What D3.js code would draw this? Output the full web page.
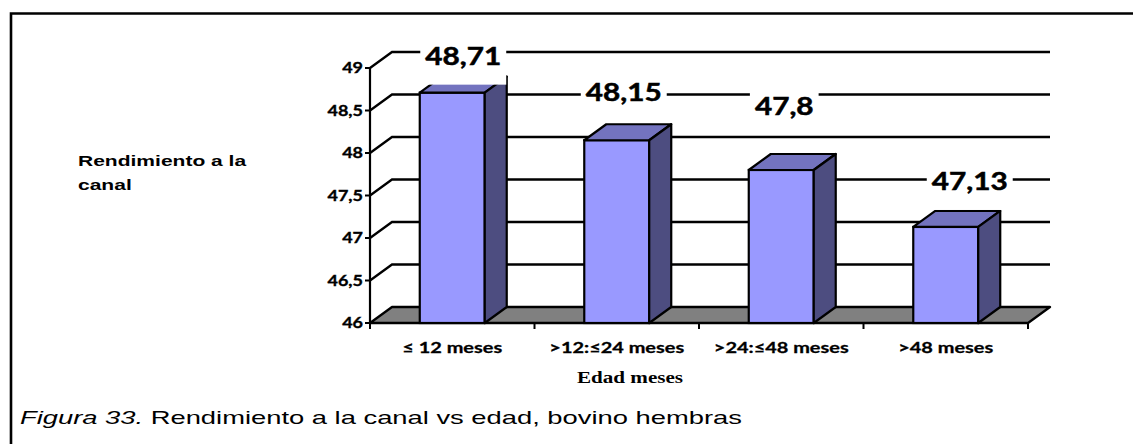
<!DOCTYPE html>
<html>
<head>
<meta charset="utf-8">
<script src="https://cdn.jsdelivr.net/npm/d3@7"></script>
<style>
  html, body { margin: 0; padding: 0; background: #fff; }
  svg { display: block; }
</style>
</head>
<body>
<svg id="chart" width="1133" height="444"></svg>
<script>
// Rendimiento a la canal por grupo de edad (bovino hembras)
const categories = ["≤ 12 meses", ">12:≤24 meses", ">24:≤48 meses", ">48 meses"];
const values = [48.71, 48.15, 47.8, 47.13];
const valueLabels = ["48,71", "48,15", "47,8", "47,13"];
const yTicks = [46, 46.5, 47, 47.5, 48, 48.5, 49];
const yTickLabels = ["46", "46,5", "47", "47,5", "48", "48,5", "49"];

// layout
const plot = { left: 370, right: 1028, top: 68, bottom: 323 };
const depth = { dx: 22, dy: -16 };
const labelNudge = [
  { dx: 11, dy: -28 },
  { dx: 7, dy: -39 },
  { dx: 3, dy: -55 },
  { dx: 24, dy: -37 }
];
const stretch = { num: 1.24, cat: 1.33, arial: 1.5, caption: 1.52, serif: 1.32 };

const svg = d3.select("#chart");

const y = d3.scaleLinear().domain([46, 49]).range([plot.bottom, plot.top]);
const x = d3.scaleBand().domain(categories).range([plot.left, plot.right])
  .paddingInner(0.605).paddingOuter(0.3025);

// frame
svg.append("path")
  .attr("d", "M11,444 L11,13.5 L1133,13.5")
  .attr("fill", "none").attr("stroke", "#000").attr("stroke-width", 2.6);

// gridlines on the left wall and back wall
const grid = svg.append("g");
yTicks.filter(t => t > 46).forEach(t => {
  const yy = y(t);
  grid.append("path")
    .attr("d", `M${plot.left},${yy} L${plot.left + depth.dx},${yy + depth.dy} L${plot.right + depth.dx},${yy + depth.dy}`)
    .attr("fill", "none").attr("stroke", "#000").attr("stroke-width", 2.3);
});

// floor
const y0 = y(46);
svg.append("path")
  .attr("d", `M${plot.left},${y0} L${plot.right},${y0} L${plot.right + depth.dx},${y0 + depth.dy} L${plot.left + depth.dx},${y0 + depth.dy} Z`)
  .attr("fill", "#808080").attr("stroke", "#000").attr("stroke-width", 2.3)
  .attr("stroke-linejoin", "round");

// category ticks under the floor
const bounds = d3.range(categories.length + 1).map(i => plot.left + i * x.step());
svg.append("g").selectAll("line").data(bounds).join("line")
  .attr("x1", d => d).attr("x2", d => d)
  .attr("y1", y0).attr("y2", y0 + 6)
  .attr("stroke", "#000").attr("stroke-width", 2);

// bars
const bw = x.bandwidth();
const bars = svg.append("g").selectAll("g").data(values).join("g");
bars.append("rect")
  .attr("x", (d, i) => x(categories[i]))
  .attr("y", d => y(d))
  .attr("width", bw)
  .attr("height", d => y0 - y(d))
  .attr("fill", "#9999FF").attr("stroke", "#000").attr("stroke-width", 2.2);
bars.append("path")
  .attr("d", (d, i) => {
    const bx = x(categories[i]), yv = y(d);
    return `M${bx},${yv} L${bx + depth.dx},${yv + depth.dy} L${bx + bw + depth.dx},${yv + depth.dy} L${bx + bw},${yv} Z`;
  })
  .attr("fill", "#7373BF").attr("stroke", "#000").attr("stroke-width", 2.2)
  .attr("stroke-linejoin", "round");
bars.append("path")
  .attr("d", (d, i) => {
    const bx = x(categories[i]) + bw, yv = y(d);
    return `M${bx},${yv} L${bx + depth.dx},${yv + depth.dy} L${bx + depth.dx},${y0 + depth.dy} L${bx},${y0} Z`;
  })
  .attr("fill", "#4D4D80").attr("stroke", "#000").attr("stroke-width", 2.2)
  .attr("stroke-linejoin", "round");

// y axis
svg.append("line")
  .attr("x1", plot.left).attr("x2", plot.left)
  .attr("y1", y(49)).attr("y2", y0)
  .attr("stroke", "#000").attr("stroke-width", 2.2);
svg.append("g").selectAll("line").data(yTicks).join("line")
  .attr("x1", plot.left - 5).attr("x2", plot.left)
  .attr("y1", d => y(d)).attr("y2", d => y(d))
  .attr("stroke", "#000").attr("stroke-width", 2);

function stretchedText(parent, tx, ty, sx, txt) {
  return parent.append("text")
    .attr("transform", `translate(${tx},${ty}) scale(${sx},1)`)
    .text(txt);
}

const tickG = svg.append("g")
  .attr("font-family", "Lato, sans-serif").attr("font-weight", "bold")
  .attr("font-size", 14.5).attr("text-anchor", "end")
  .attr("stroke", "#000").attr("stroke-width", 0.35);
yTicks.forEach((t, i) => {
  stretchedText(tickG, plot.left - 7, y(t) + 5, stretch.num, yTickLabels[i]);
});

// category labels
const catG = svg.append("g")
  .attr("font-family", "Lato, sans-serif").attr("font-weight", "bold")
  .attr("font-size", 15).attr("text-anchor", "middle")
  .attr("stroke", "#000").attr("stroke-width", 0.3);
categories.forEach(c => {
  stretchedText(catG, x(c) + bw / 2, 353, stretch.cat, c);
});

// axis titles
stretchedText(svg, 630, 383, stretch.serif, "Edad meses")
  .attr("font-family", "'Liberation Serif', 'Times New Roman', serif")
  .attr("font-weight", "bold").attr("font-size", 16).attr("text-anchor", "middle");

const yTitle = svg.append("g")
  .attr("font-family", "'Liberation Sans', Arial, sans-serif")
  .attr("font-weight", "bold").attr("font-size", 14.5);
stretchedText(yTitle, 78, 166, 1.45, "Rendimiento a la");
stretchedText(yTitle, 78, 190, 1.45, "canal");

// data labels on white boxes
const lab = svg.append("g");
values.forEach((v, i) => {
  const cx = x(categories[i]) + bw / 2 + labelNudge[i].dx;
  const by = y(v) + labelNudge[i].dy;
  const g = lab.append("g");
  const t = stretchedText(g, cx, by, stretch.num, valueLabels[i])
    .attr("font-family", "Lato, sans-serif").attr("font-weight", "bold")
    .attr("font-size", 24).attr("text-anchor", "middle")
    .attr("stroke", "#000").attr("stroke-width", 0.5);
  const w = t.node().getComputedTextLength() * stretch.num;
  g.insert("rect", "text")
    .attr("x", cx - w / 2 - 5).attr("y", by - 24)
    .attr("width", w + 10).attr("height", 44)
    .attr("fill", "#fff");
});

// caption
const cap = stretchedText(svg, 20, 424, stretch.caption, null)
  .attr("font-family", "'Liberation Sans', Arial, sans-serif")
  .attr("font-size", 18);
cap.append("tspan").attr("font-style", "italic").text("Figura 33.");
cap.append("tspan").text(" Rendimiento a la canal vs edad, bovino hembras");
</script>
</body>
</html>
